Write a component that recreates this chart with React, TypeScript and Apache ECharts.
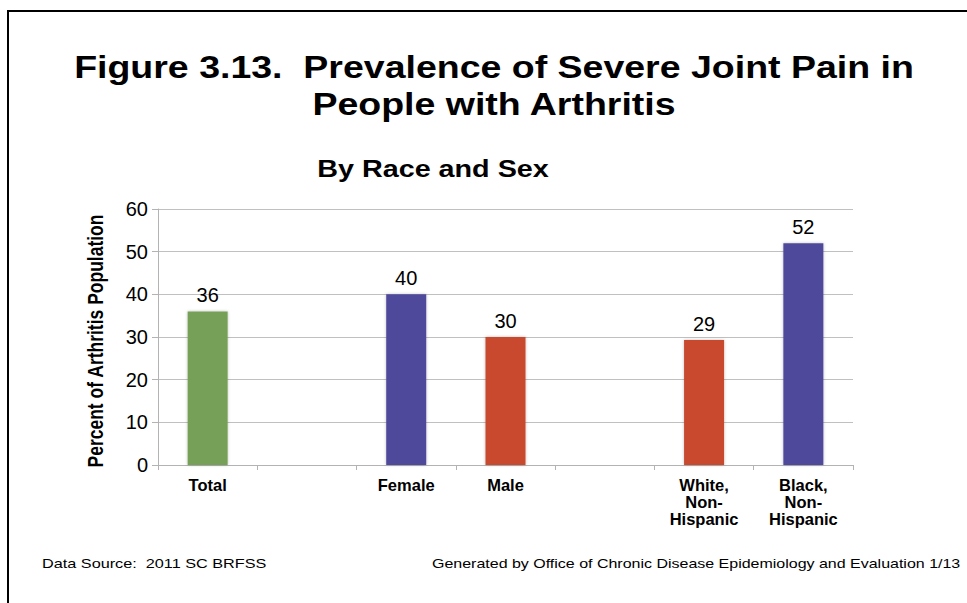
import React, { useEffect, useRef } from "react";
import * as echarts from "echarts";

const categories = ["Total", "", "Female", "Male", "", "White,\nNon-\nHispanic", "Black,\nNon-\nHispanic"];
const values: (number | null)[] = [36, null, 40, 30, null, 29.3, 52];
const barColors = ["#76A058", "#76A058", "#4F4A9C", "#C8482F", "#C8482F", "#C8482F", "#4F4A9C"];
const yTicks = { min: 0, max: 60, interval: 10 };

const titleLine1 = "Figure 3.13.  Prevalence of Severe Joint Pain in";
const titleLine2 = "People with Arthritis";
const subtitle = "By Race and Sex";
const yName = "Percent of Arthritis Population";
const footerLeft = "Data Source:  2011 SC BRFSS";
const footerRight = "Generated by Office of Chronic Disease Epidemiology and Evaluation 1/13";

const FONT = "'Liberation Sans', Arial, Helvetica, sans-serif";

export default function App() {
  const ref = useRef<HTMLDivElement>(null);
  useEffect(() => {
    if (!ref.current) return;
    const chart = echarts.init(ref.current, undefined, { renderer: "svg" });
    const option: any = {
      animation: false,
      backgroundColor: "#ffffff",
      textStyle: { fontFamily: FONT },
      grid: { left: 158, right: 114, top: 209, bottom: 138, containLabel: false },
      xAxis: {
        type: "category",
        data: categories,
        axisLine: { show: true, lineStyle: { color: "#b3b3b3", width: 1 } },
        axisTick: { show: true, length: 5, lineStyle: { color: "#b3b3b3" } },
        axisLabel: {
          interval: 0,
          color: "#000",
          fontFamily: FONT,
          fontWeight: "bold",
          fontSize: 16.5,
          lineHeight: 17,
          margin: 11,
        },
        splitLine: { show: false },
      },
      yAxis: {
        type: "value",
        min: yTicks.min,
        max: yTicks.max,
        interval: yTicks.interval,
        axisLine: { show: true, lineStyle: { color: "#b3b3b3", width: 1 } },
        axisTick: { show: true, length: 6, lineStyle: { color: "#b3b3b3" } },
        axisLabel: { color: "#000", fontFamily: FONT, fontSize: 20, margin: 10 },
        splitLine: { show: true, lineStyle: { color: "#c0c0c0", width: 1 } },
      },
      series: [
        {
          type: "bar",
          barWidth: 40,
          data: values.map((v, i) =>
            v === null ? "-" : { value: v, itemStyle: { color: barColors[i] } }
          ),
          itemStyle: {
            shadowBlur: 3,
            shadowColor: "rgba(0,0,0,0.25)",
          },
          label: {
            show: true,
            position: "top",
            distance: 6,
            color: "#000",
            fontFamily: FONT,
            fontSize: 20,
            formatter: (p: any) => String(Math.round(p.value)),
          },
        },
      ],
      graphic: [
        {
          type: "rect",
          shape: { x: 8, y: 11, width: 1000, height: 700 },
          style: { fill: "none", stroke: "#000", lineWidth: 2 },
          silent: true,
        },
        {
          type: "text",
          x: 494,
          y: 67,
          scaleX: 1.21,
          style: {
            text: titleLine1,
            font: `bold 31px ${FONT}`,
            fill: "#000",
            textAlign: "center",
            textVerticalAlign: "middle",
          },
        },
        {
          type: "text",
          x: 494,
          y: 104,
          scaleX: 1.21,
          style: {
            text: titleLine2,
            font: `bold 31px ${FONT}`,
            fill: "#000",
            textAlign: "center",
            textVerticalAlign: "middle",
          },
        },
        {
          type: "text",
          x: 433,
          y: 169,
          scaleX: 1.25,
          style: {
            text: subtitle,
            font: `bold 23px ${FONT}`,
            fill: "#000",
            textAlign: "center",
            textVerticalAlign: "middle",
          },
        },
        {
          type: "text",
          x: 95,
          y: 341,
          rotation: Math.PI / 2,
          scaleY: 1.3,
          style: {
            text: yName,
            font: `bold 17.5px ${FONT}`,
            fill: "#000",
            textAlign: "center",
            textVerticalAlign: "middle",
          },
        },
        {
          type: "text",
          x: 42,
          y: 564,
          scaleX: 1.25,
          style: {
            text: footerLeft,
            font: `13px ${FONT}`,
            fill: "#000",
            textAlign: "left",
            textVerticalAlign: "middle",
          },
        },
        {
          type: "text",
          x: 432,
          y: 564,
          scaleX: 1.23,
          style: {
            text: footerRight,
            font: `13px ${FONT}`,
            fill: "#000",
            textAlign: "left",
            textVerticalAlign: "middle",
          },
        },
      ],
    };
    chart.setOption(option);
    return () => chart.dispose();
  }, []);
  return (
    <div
      ref={ref}
      style={{ position: "fixed", left: 0, top: 0, width: 967, height: 603, background: "#fff" }}
    />
  );
}
